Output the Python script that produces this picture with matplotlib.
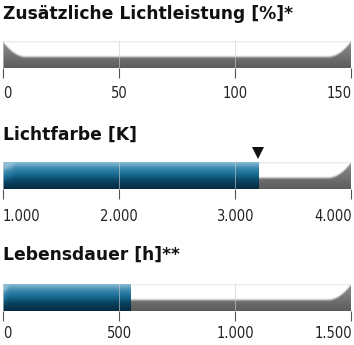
import numpy as np
import matplotlib
matplotlib.use("Agg")
import matplotlib.pyplot as plt
from matplotlib.colors import LinearSegmentedColormap

titles = ["Zusätzliche Lichtleistung [%]*", "Lichtfarbe [K]", "Lebensdauer [h]**"]
ranges = [(0, 150), (1000, 4000), (0, 1500)]
values = [0, 3200, 550]
markers = [None, 3200, None]
ticks = [[0, 50, 100, 150], [1000, 2000, 3000, 4000], [0, 500, 1000, 1500]]
tick_labels = [["0", "50", "100", "150"],
               ["1.000", "2.000", "3.000", "4.000"],
               ["0", "500", "1.000", "1.500"]]

W, H = 354, 345
fig = plt.figure(figsize=(W / 100, H / 100), dpi=100)

bar_top = [41, 162, 284]
bar_bot = [68, 189, 311]
title_y = [14, 135, 255]
label_y = [93, 216, 334]
x0, x1 = 3, 351

def track_img(nx=500, ny=120):
    xs = np.linspace(0, 1, nx)
    ys = np.linspace(0, 1, ny)[:, None]  # 0 bottom, 1 top
    el = np.clip(1 - xs / 0.065, 0, 1)
    er = np.clip(1 - (1 - xs) / 0.065, 0, 1)
    edge = np.maximum(el, er)
    thr = 0.34 + 0.55 * edge ** 2
    t = np.clip((ys - thr) / 0.14, 0, 1)
    t = t * t * (3 - 2 * t)
    dark = 0.36 + 0.10 * ys / 0.5
    light = 1.0 - 0.10 * np.clip((ys - 0.93) / 0.07, 0, 1)
    img = dark * (1 - t) + light * t
    return img

def blue_img(nx=400, ny=120):
    xs = np.linspace(0, 1, nx)
    ys = np.linspace(0, 1, ny)[:, None]
    edge = np.clip(1 - xs / 0.05, 0, 1)
    base = ys ** 1.2 + 0.3 * edge * ys
    return np.clip(base, 0, 1)

blue_cmap = LinearSegmentedColormap.from_list(
    "b", ["#052c43", "#0a4564", "#1a6f96", "#3f8ab0", "#8dbcd5"])

for i in range(3):
    lo, hi = ranges[i]
    bottom = 1 - bar_bot[i] / H
    height = (bar_bot[i] - bar_top[i]) / H
    ax = fig.add_axes([x0 / W, bottom, (x1 - x0) / W, height])
    ax.set_xlim(lo, hi)
    ax.set_ylim(0, 1)
    ax.imshow(track_img(), extent=[lo, hi, 0, 1], aspect="auto", origin="lower",
              cmap="gray", vmin=0, vmax=1, zorder=1, interpolation="bilinear")
    if values[i] > lo:
        ax.imshow(blue_img(), extent=[lo, values[i], 0, 1], aspect="auto",
                  origin="lower", cmap=blue_cmap, vmin=0, vmax=1, zorder=2,
                  interpolation="bilinear")
    for t in ticks[i]:
        ax.axvline(t, color="#cfcfcf", lw=0.6, zorder=3, alpha=0.7)
    for s in ax.spines.values():
        s.set_visible(False)
    ax.set_yticks([])
    ax.set_xticks(ticks[i])
    ax.set_xticklabels([])
    ax.tick_params(axis="x", direction="out", length=7, width=0.8, color="#555555", pad=0)
    for j, (t, lab) in enumerate(zip(ticks[i], tick_labels[i])):
        xf = (x0 + (t - lo) / (hi - lo) * (x1 - x0)) / W
        ha = "center"
        if j == 0:
            xf = x0 / W
            ha = "left"
        elif j == len(ticks[i]) - 1:
            xf = (x1 + 1) / W
            ha = "right"
        fig.text(xf, 1 - label_y[i] / H, lab, ha=ha, va="center", fontsize=10.5,
                 family="DejaVu Sans", fontstretch="condensed", color="#222222")
    fig.text(3 / W, 1 - title_y[i] / H, titles[i], ha="left", va="center",
             fontsize=12.3, fontweight="bold", family="DejaVu Sans", color="#111111")
    if markers[i] is not None:
        ax.plot([markers[i]], [1.33], marker="v", color="#111111", markersize=9,
                clip_on=False, zorder=5, markeredgewidth=0)

fig.savefig("out.png", dpi=100)
